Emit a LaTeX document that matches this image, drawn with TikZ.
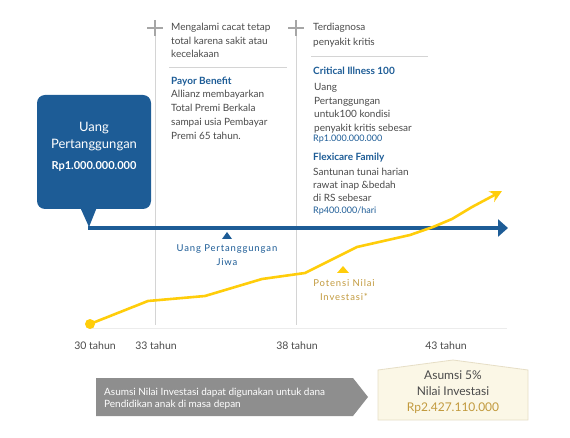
\documentclass[tikz,border=0pt]{standalone}
\usepackage{fontspec}
\setmainfont{Lato}
\usetikzlibrary{arrows.meta}
\definecolor{azblue}{HTML}{1D5C96}
\definecolor{azyellow}{HTML}{FFCD0A}
\definecolor{azgold}{HTML}{C29A3E}
\definecolor{aztext}{HTML}{4A4A4A}
\definecolor{azrule}{HTML}{D4D4D4}
\definecolor{azcream}{HTML}{FBF7E6}
\definecolor{azbeige}{HTML}{E6DEC6}
\definecolor{azgrey}{HTML}{8E8E8E}

\begin{document}
\begin{tikzpicture}[x=1pt, y=-1pt,
                  % multi-line nodes sit on the baseline of their last line
                  txt/.style={anchor=base west, align=left, inner sep=0pt, text=aztext,
                              font=\fontsize{10}{13.5}\selectfont},
                  ttl/.style={anchor=base west, inner sep=0pt, text=azblue,
                              font=\fontsize{10}{12}\selectfont\bfseries},
                  amt/.style={anchor=base west, inner sep=0pt, text=azblue,
                              font=\fontsize{9}{11}\selectfont},
                  age/.style={anchor=base, inner sep=0pt, text=aztext,
                              font=\fontsize{10.5}{12}\selectfont},
                  spaced/.style={anchor=base, align=center, inner sep=0pt,
                              font=\fontsize{9.5}{14}\selectfont\addfontfeature{LetterSpace=9}},
                  plus/.style={draw=gray!70, line width=2.6pt},
                  grid/.style={draw=azrule, line width=0.8pt},
            ]
            \useasboundingbox (0,0) rectangle (570,438);

            % timeline guides
            \coordinate (g33top) at (155,35);  \coordinate (g33bot) at (155,325);
            \coordinate (g38top) at (296,35);  \coordinate (g38bot) at (296,325);
            \coordinate (base0) at (88,328);   \coordinate (base1) at (507,328);
            \draw[grid] (g33top) -- (g33bot);
            \draw[grid] (g38top) -- (g38bot);
            \draw[draw=gray!15, line width=1pt] (base0) -- (base1);
            \draw[plus] (147,28) -- (163,28) (155,20) -- (155,36);
            \draw[plus] (288,28) -- (304,28) (296,20) -- (296,36);

            % left column
            \node[txt] (tpd) at (171,58) {Mengalami cacat tetap\\total karena sakit atau\\kecelakaan};
            \draw[grid] (169,67) -- (287,67);
            \node[ttl] (payor) at (171,85) {Payor Benefit};
            \node[txt, font=\fontsize{10}{14}\selectfont] (payortxt) at (171,140)
                  {Allianz membayarkan\\Total Premi Berkala\\sampai usia Pembayar\\Premi 65 tahun.};

            % right column
            \node[txt, font=\fontsize{10}{14.5}\selectfont] (ci) at (313,45.5) {Terdiagnosa\\penyakit kritis};
            \draw[grid] (311,56) -- (428,56);
            \node[ttl] (cititle) at (313,75) {Critical Illness 100};
            \node[txt, font=\fontsize{10}{13.4}\selectfont] (citxt) at (314,131.2)
                  {Uang\\Pertanggungan\\untuk100 kondisi\\penyakit kritis sebesar};
            \node[amt] (ciamt) at (313,142) {Rp1.000.000.000};
            \node[ttl] (flexi) at (313,161) {Flexicare Family};
            \node[txt, font=\fontsize{10}{13}\selectfont] (flexitxt) at (313,202)
                  {Santunan tunai harian\\rawat inap \&bedah\\di RS sebesar};
            \node[amt] (flexiamt) at (313,214) {Rp400.000/hari};

            % sum assured callout
            \fill[azblue] (80,207) -- (97,207) -- (89,227) -- cycle;
            \coordinate (uptip) at (88,228);
            \node[fill=azblue, rounded corners=8pt, minimum width=114pt, minimum height=114pt,
                  inner sep=0pt] (upbox) at (94,152) {};
            \node[align=center, text=white, inner sep=0pt, font=\fontsize{13}{17}\selectfont,
                  anchor=base] (uptxt) at (94,148.5) {Uang\\Pertanggungan};
            \node[text=white, inner sep=0pt, font=\fontsize{11}{12}\selectfont\bfseries,
                  anchor=base] (upamt) at (94,170) {Rp1.000.000.000};

            % sum assured line
            \coordinate (upend) at (508,228);
            \draw[azblue, line width=3.5pt, -{Triangle[length=10pt, width=17pt]}] (uptip) -- (upend);
            \fill[azblue] (222,239) -- (232,239) -- (227,232) -- cycle;
            \node[spaced, text=azblue] (uplabel) at (227,265.5) {Uang Pertanggungan\\Jiwa};

            % investment value line
            \node[circle, fill=azyellow, inner sep=0pt, minimum size=10pt] (start) at (90,324) {};
            \coordinate (invend) at (502,191);
            \draw[azyellow, line width=2.6pt, line join=round, -{Stealth[length=12pt, width=12pt]}]
                  (start.center) -- (148,301) -- (205,296) -- (262,279) -- (305,273) -- (357,247)
                  -- (410,235) -- (433,227) -- (452,219) -- (472,207) -- (invend);
            \fill[azyellow] (337,273) -- (349,273) -- (343,266) -- cycle;
            \node[spaced, text=azgold] (invlabel) at (344,301) {Potensi Nilai\\Investasi*};

            % ages
            \node[age] (a30) at (95,349) {30 tahun};
            \node[age] (a33) at (156,349) {33 tahun};
            \node[age] (a38) at (297,349) {38 tahun};
            \node[age] (a43) at (446,349) {43 tahun};

            % bottom notes
            \fill[azgrey] (96,378) -- (353,378) -- (368,397) -- (353,416) -- (96,416) -- cycle;
            \node[txt, text=white, font=\fontsize{10}{12}\selectfont] (note) at (104,407)
                  {Asumsi Nilai Investasi dapat digunakan untuk dana\\Pendidikan anak di masa depan};
            \filldraw[fill=azcream, draw=azbeige, line width=0.8pt]
                  (378,420) -- (378,370) -- (453,360) -- (528,370) -- (528,420) -- cycle;
            \node[align=center, anchor=base, inner sep=0pt, text=aztext,
                  font=\fontsize{12}{16}\selectfont] (assume) at (453,411.5)
                  {Asumsi 5\%\\Nilai Investasi\\\color{azgold}Rp2.427.110.000};
      \end{tikzpicture}
\end{document}
